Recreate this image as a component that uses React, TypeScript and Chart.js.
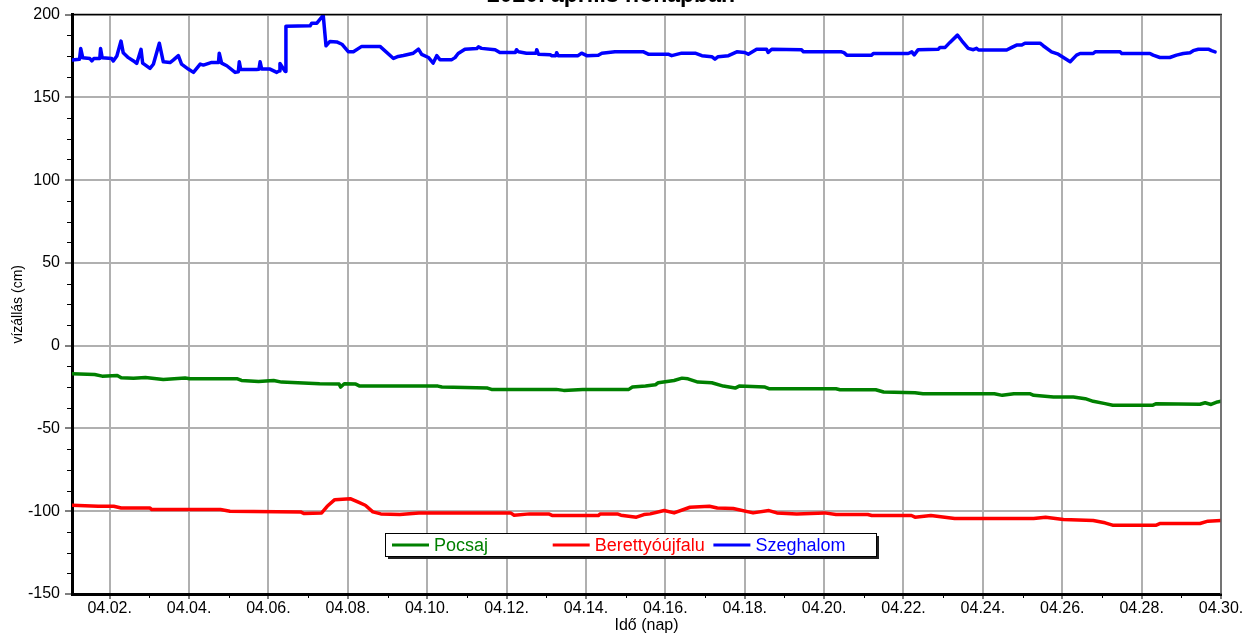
import React, { useEffect, useRef } from 'react';
import { Chart, registerables } from 'chart.js';

Chart.register(...registerables);

// ---------- text ----------
const CHART_TITLE = '2020. április hónapban';
const Y_TITLE = 'vízállás (cm)';
const X_TITLE = 'Idő (nap)';
const SERIES_NAMES = ['Pocsaj', 'Berettyóújfalu', 'Szeghalom'];
const SERIES_COLORS = ['#008000', '#ff0000', '#0000ff'];

// ---------- axes ----------
const X_MIN = 1.05;
const X_MAX = 30;
const Y_MIN = -150;
const Y_MAX = 200;
const xTickDays = [2, 4, 6, 8, 10, 12, 14, 16, 18, 20, 22, 24, 26, 28, 30];
const xTickLabels = ['04.02.', '04.04.', '04.06.', '04.08.', '04.10.', '04.12.', '04.14.', '04.16.', '04.18.', '04.20.', '04.22.', '04.24.', '04.26.', '04.28.', '04.30.'];
const xMinorTickDays = [3, 5, 7, 9, 11, 13, 15, 17, 19, 21, 23, 25, 27, 29];
const yTickValues = [-150, -100, -50, 0, 50, 100, 150, 200];
const yMinorStep = 12.5;

// ---------- data (day of April, water level cm) ----------
const pocsajDays = [1.05, 1.62, 1.81, 2.19, 2.29, 2.6, 2.9, 3.35, 3.9, 4.02, 5.22, 5.32, 5.75, 6.13, 6.33, 7.29, 7.78, 7.82, 7.91, 8.2, 8.3, 10.27, 10.37, 11.52, 11.62, 13.25, 13.44, 13.92, 15.08, 15.17, 15.5, 15.75, 15.82, 16.22, 16.42, 16.57, 16.82, 17.17, 17.46, 17.76, 17.86, 18.51, 18.61, 20.3, 20.4, 21.3, 21.5, 22.29, 22.49, 24.29, 24.49, 24.78, 25.18, 25.28, 25.78, 26.28, 26.58, 26.78, 27.08, 27.27, 28.27, 28.37, 29.47, 29.6, 29.75, 29.91, 30];
const pocsajCm = [-17, -17.4, -18.4, -18, -19.4, -19.6, -19.2, -20.4, -19.5, -20, -20, -21, -21.6, -21, -22, -23, -23.2, -25, -23, -23.2, -24.4, -24.4, -25, -25.6, -26.4, -26.4, -27, -26.4, -26.4, -25, -24.4, -23.6, -22.4, -21, -19.6, -20, -22, -22.4, -24.4, -25.6, -24.4, -25, -26, -26, -26.6, -26.6, -28, -28.4, -29, -29, -30, -29, -29, -30, -31, -31, -32, -33.6, -35, -36, -36, -35, -35.4, -34.5, -35.5, -34, -33.5];

const berettyoDays = [1.05, 1.71, 2.1, 2.29, 3.01, 3.06, 4.79, 5.03, 6.81, 6.9, 7.34, 7.48, 7.67, 8.06, 8.25, 8.44, 8.63, 8.83, 9.31, 9.79, 12.1, 12.19, 12.58, 13.06, 13.16, 14.31, 14.36, 14.79, 14.88, 15.27, 15.46, 15.62, 15.97, 16.22, 16.62, 17.11, 17.31, 17.71, 18.21, 18.61, 18.81, 19.31, 20.01, 20.3, 21.1, 21.2, 22.2, 22.29, 22.69, 23.29, 25.28, 25.58, 26.03, 26.78, 27.08, 27.27, 28.37, 28.47, 29.47, 29.67, 30];
const berettyoCm = [-96.4, -97, -97, -98, -98, -99, -99, -100, -100.4, -101.4, -101, -97, -93, -92.4, -94.4, -96.4, -100.4, -101.6, -102, -101, -101, -102.4, -101.6, -101.6, -102.6, -102.6, -101.6, -101.6, -102.4, -103.6, -102, -101.6, -99.6, -101, -97.6, -97, -98, -98.4, -101, -99.6, -101, -101.6, -101, -102, -102, -102.6, -102.6, -103.6, -102.6, -104.4, -104.4, -103.6, -105, -105.6, -107, -108.4, -108.4, -107.4, -107.4, -106, -105.6];

const szeghalomDays = [1.05, 1.24, 1.27, 1.32, 1.5, 1.55, 1.6, 1.75, 1.77, 1.81, 2.05, 2.09, 2.18, 2.285, 2.34, 2.47, 2.6, 2.68, 2.79, 2.83, 3.015, 3.1, 3.25, 3.35, 3.52, 3.6, 3.73, 3.81, 3.98, 4.11, 4.28, 4.36, 4.57, 4.74, 4.76, 4.82, 4.95, 5.16, 5.24, 5.265, 5.3, 5.7, 5.76, 5.79, 5.83, 6.04, 6.21, 6.27, 6.29, 6.42, 6.44, 7.05, 7.09, 7.22, 7.38, 7.45, 7.55, 7.72, 7.85, 8.01, 8.14, 8.35, 8.81, 9.15, 9.27, 9.4, 9.65, 9.78, 9.86, 10.03, 10.15, 10.24, 10.32, 10.62, 10.7, 10.78, 10.95, 11.25, 11.29, 11.37, 11.71, 11.83, 12.22, 12.25, 12.3, 12.5, 12.74, 12.76, 12.8, 13.1, 13.14, 13.24, 13.26, 13.3, 13.8, 13.89, 14.02, 14.31, 14.4, 14.73, 15.45, 15.57, 16.07, 16.16, 16.41, 16.75, 16.92, 17.17, 17.25, 17.33, 17.59, 17.8, 18.0, 18.09, 18.3, 18.55, 18.59, 18.68, 19.43, 19.48, 20.44, 20.5, 20.57, 21.2, 21.24, 22.12, 22.21, 22.27, 22.37, 22.88, 22.92, 23.05, 23.17, 23.36, 23.47, 23.63, 23.76, 23.84, 23.89, 24.6, 24.73, 24.85, 24.98, 25.06, 25.44, 25.52, 25.73, 25.9, 26.03, 26.2, 26.36, 26.45, 26.78, 26.83, 27.46, 27.5, 28.21, 28.29, 28.46, 28.71, 28.88, 29.05, 29.22, 29.3, 29.43, 29.68, 29.76, 29.85];
const szeghalomCm = [172.5, 173, 179.5, 174, 173.5, 172, 173.5, 173.5, 179.5, 174, 173.5, 172, 175, 184, 177, 174, 172, 170.5, 179, 170.7, 167.5, 170, 182.7, 171.5, 171, 172.5, 175.2, 170.1, 167.1, 165.1, 170.1, 169.5, 171.1, 171, 176.7, 170.7, 169.1, 165.1, 165.5, 171.5, 166.9, 166.9, 167, 171.5, 167.1, 167.1, 165.1, 166, 170.5, 165.7, 193, 193.2, 194.8, 194.8, 199.6, 181.2, 183.8, 183.5, 182.1, 177.6, 177.6, 180.8, 180.8, 173.5, 174.7, 175.3, 176.7, 179.1, 176, 174.1, 170.7, 175.2, 172.8, 172.8, 174, 176.5, 179.1, 179.5, 180.5, 179.6, 178.8, 177.1, 177.1, 178.8, 177.5, 176.7, 176.7, 178.8, 176.1, 175.8, 175.2, 175.2, 177, 175.2, 175.2, 176.7, 175.2, 175.5, 176.7, 177.5, 177.5, 176.1, 176.1, 175.2, 176.7, 176.7, 175.2, 174.6, 173.1, 174.6, 175.2, 177.5, 177.1, 176.1, 179.1, 179.1, 177.1, 179.1, 178.8, 177.5, 177.5, 177, 175.5, 175.5, 176.5, 176.5, 177.5, 175.7, 178.8, 179.1, 180.2, 180.2, 183.2, 187.6, 184.2, 179.6, 178.8, 179.6, 178.6, 178.6, 180.2, 181.6, 181.6, 182.7, 182.7, 181.2, 177.5, 176.1, 174.1, 171.5, 175.5, 176.5, 176.5, 177.5, 177.5, 176.5, 176.5, 175.5, 174.1, 174.1, 175.5, 176.5, 177, 178.2, 179.1, 179.1, 178.2, 177.5];

const seriesDays = [pocsajDays, berettyoDays, szeghalomDays];
const seriesCm = [pocsajCm, berettyoCm, szeghalomCm];

const FONT = 'Liberation Sans, Arial, Helvetica, sans-serif';

const decorPlugin = {
  id: 'decor',
  afterDraw(chart: any) {
    const ctx: CanvasRenderingContext2D = chart.ctx;
    const { left, right, top, bottom } = chart.chartArea;
    const xs = chart.scales.x;
    const ys = chart.scales.y;
    ctx.save();

    // frame top / right
    ctx.strokeStyle = '#000';
    ctx.lineWidth = 1.5;
    ctx.beginPath();
    ctx.moveTo(left, top);
    ctx.lineTo(right + 1, top);
    ctx.stroke();
    ctx.strokeStyle = '#606060';
    ctx.beginPath();
    ctx.moveTo(right, top);
    ctx.lineTo(right, bottom);
    ctx.stroke();

    // minor ticks
    ctx.strokeStyle = '#000';
    ctx.lineWidth = 1;
    ctx.beginPath();
    for (const d of xMinorTickDays) {
      const px = Math.round(xs.getPixelForValue(d)) + 0.5;
      ctx.moveTo(px, bottom);
      ctx.lineTo(px, bottom + 4);
    }
    for (let v = Y_MIN + yMinorStep; v < Y_MAX; v += yMinorStep) {
      if (yTickValues.includes(v)) continue;
      const py = Math.round(ys.getPixelForValue(v)) + 0.5;
      ctx.moveTo(left - 5, py);
      ctx.lineTo(left, py);
    }
    ctx.stroke();

    // axis titles
    ctx.fillStyle = '#000';
    ctx.font = `14px ${FONT}`;
    ctx.textAlign = 'center';
    ctx.textBaseline = 'middle';
    ctx.save();
    ctx.translate(18, (top + bottom) / 2);
    ctx.rotate(-Math.PI / 2);
    ctx.fillText(Y_TITLE, 0, 0);
    ctx.restore();
    ctx.font = `16px ${FONT}`;
    ctx.fillText(X_TITLE, (left + right) / 2, 626);

    // chart title (partly above the page)
    ctx.font = `bold 23px ${FONT}`;
    ctx.textBaseline = 'alphabetic';
    ctx.fillText(CHART_TITLE, 611, 2);

    // legend box
    const lx = 385, ly = 533, lw = 491, lh = 23;
    ctx.fillStyle = '#202020';
    ctx.fillRect(lx + 3, ly + 3, lw, lh);
    ctx.fillStyle = '#fff';
    ctx.fillRect(lx, ly, lw, lh);
    ctx.strokeStyle = '#000';
    ctx.lineWidth = 1;
    ctx.strokeRect(lx + 0.5, ly + 0.5, lw, lh);
    ctx.font = `18px ${FONT}`;
    ctx.textAlign = 'left';
    ctx.textBaseline = 'middle';
    chart.data.datasets.forEach((ds: any, i: number) => {
      const sx = lx + 7 + i * 160.7;
      const cy = ly + lh / 2 + 0.5;
      ctx.strokeStyle = ds.borderColor;
      ctx.lineWidth = 3;
      ctx.beginPath();
      ctx.moveTo(sx, cy);
      ctx.lineTo(sx + 37, cy);
      ctx.stroke();
      ctx.fillStyle = ds.borderColor;
      ctx.fillText(ds.label, sx + 42, cy + 1);
    });

    ctx.restore();
  },
};

export default function App() {
  const ref = useRef<HTMLCanvasElement>(null);

  useEffect(() => {
    const canvas = ref.current;
    if (!canvas) return;
    const datasets = SERIES_NAMES.map((name, i) => ({
      label: name,
      data: seriesDays[i].map((d, j) => ({ x: d, y: seriesCm[i][j] })),
      borderColor: SERIES_COLORS[i],
      backgroundColor: SERIES_COLORS[i],
      borderWidth: 3.5,
      borderJoinStyle: 'round',
      borderCapStyle: 'round',
      pointRadius: 0,
      fill: false,
      tension: 0,
    }));

    const chart = new Chart(canvas, {
      type: 'line',
      data: { datasets },
      options: {
        animation: false,
        responsive: false,
        devicePixelRatio: 1,
        layout: { padding: { left: 0, top: 12, right: 38, bottom: 0 } },
        plugins: {
          legend: { display: false },
          tooltip: { enabled: false },
          title: { display: false },
        },
        scales: {
          x: {
            type: 'linear',
            min: X_MIN,
            max: X_MAX,
            afterBuildTicks: (scale: any) => {
              scale.ticks = xTickDays.map((v) => ({ value: v }));
            },
            afterFit: (scale: any) => {
              scale.height = 42;
            },
            ticks: {
              autoSkip: false,
              maxRotation: 0,
              padding: 0,
              color: '#000',
              font: { family: FONT, size: 16 },
              callback: (_v: any, idx: number) => xTickLabels[idx],
            },
            grid: {
              color: '#b0b0b0',
              lineWidth: 2,
              tickColor: '#000',
              tickWidth: 1,
              tickLength: 5,
            },
            border: { color: '#000', width: 3 },
          },
          y: {
            type: 'linear',
            min: Y_MIN,
            max: Y_MAX,
            afterBuildTicks: (scale: any) => {
              scale.ticks = yTickValues.map((v) => ({ value: v }));
            },
            afterFit: (scale: any) => {
              scale.width = 72;
            },
            ticks: {
              autoSkip: false,
              padding: 5,
              color: '#000',
              font: { family: FONT, size: 16 },
              callback: (v: any) => String(v),
            },
            grid: {
              color: '#b0b0b0',
              lineWidth: 2,
              tickColor: '#000',
              tickWidth: 1,
              tickLength: 7,
            },
            border: { color: '#000', width: 3 },
          },
        },
      },
      plugins: [decorPlugin],
    } as any);

    return () => chart.destroy();
  }, []);

  return (
    <div style={{ position: 'fixed', left: 0, top: 0, width: 1259, height: 636, background: '#fff' }}>
      <canvas ref={ref} width={1259} height={636} style={{ display: 'block', width: 1259, height: 636 }} />
    </div>
  );
}
